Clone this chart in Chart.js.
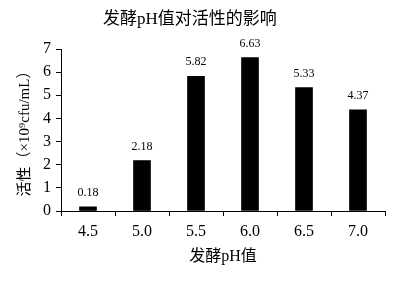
<!DOCTYPE html>
<html>
<head>
<meta charset="utf-8">
<script src="https://cdn.jsdelivr.net/npm/chart.js@4"></script>
<style>
  html, body { margin: 0; padding: 0; background: #fff; }
  #wrap { position: relative; width: 399px; height: 283px; }
  #title {
    position: absolute; left: 103px; top: 8px;
    font: 17px "Liberation Serif", "Noto Sans CJK SC", serif;
    color: #000; white-space: nowrap; line-height: 22px;
  }
</style>
</head>
<body>
<div id="wrap">
  <canvas id="chart" width="399" height="283"></canvas>
  <div id="title">发酵pH值对活性的影响</div>
</div>
<script>
// データ
const PH_LABELS = ['4.5', '5.0', '5.5', '6.0', '6.5', '7.0'];
const ACTIVITY = [0.18, 2.18, 5.82, 6.63, 5.33, 4.37];
const Y_TICKS = [0, 1, 2, 3, 4, 5, 6, 7];

const FONT = '"Liberation Serif", "Noto Sans CJK SC", serif';

// 棒の上に値を描く
const valueLabels = {
    id: 'valueLabels',
    afterDatasetsDraw(chart) {
        const ctx = chart.ctx;
        const meta = chart.getDatasetMeta(0);
        ctx.save();
        ctx.font = '12px ' + FONT;
        ctx.fillStyle = '#000';
        ctx.textAlign = 'center';
        ctx.textBaseline = 'bottom';
        meta.data.forEach((bar, i) => {
            ctx.fillText(ACTIVITY[i].toFixed(2), bar.x, bar.y - 8);
        });
        ctx.restore();
    }
};

new Chart(document.getElementById('chart'), {
    type: 'bar',
    data: {
        labels: PH_LABELS,
        datasets: [{
            data: ACTIVITY,
            backgroundColor: '#000',
            borderWidth: 0,
            barThickness: 17
        }]
    },
    options: {
        responsive: false,
        animation: false,
        layout: { padding: { top: 49, right: 14, left: 0, bottom: 0 } },
        plugins: { legend: { display: false }, tooltip: { enabled: false } },
        scales: {
            x: {
                offset: true,
                afterFit: s => { s.height = 72; },
                grid: { offset: true, drawOnChartArea: false, drawTicks: true, tickLength: 5, color: '#000' },
                border: { color: '#000', width: 1 },
                ticks: { color: '#000', font: { family: FONT, size: 16 }, padding: 6, maxRotation: 0 },
                title: { display: true, text: '发酵pH值', color: '#000', font: { family: FONT, size: 16 }, padding: { top: 0, bottom: 17 } }
            },
            y: {
                min: 0,
                max: 7,
                afterFit: s => { s.width = 61; },
                afterBuildTicks: s => { s.ticks = Y_TICKS.map(v => ({ value: v })); },
                grid: { drawOnChartArea: false, drawTicks: true, tickLength: 5, color: '#000' },
                border: { color: '#000', width: 1 },
                ticks: { color: '#000', font: { family: FONT, size: 16 }, padding: 5 },
                title: { display: true, text: '活性（×10⁹cfu/mL）', color: '#000', font: { family: FONT, size: 15 }, padding: { top: 16, bottom: 0 } }
            }
        }
    },
    plugins: [valueLabels]
});
</script>
</body>
</html>
